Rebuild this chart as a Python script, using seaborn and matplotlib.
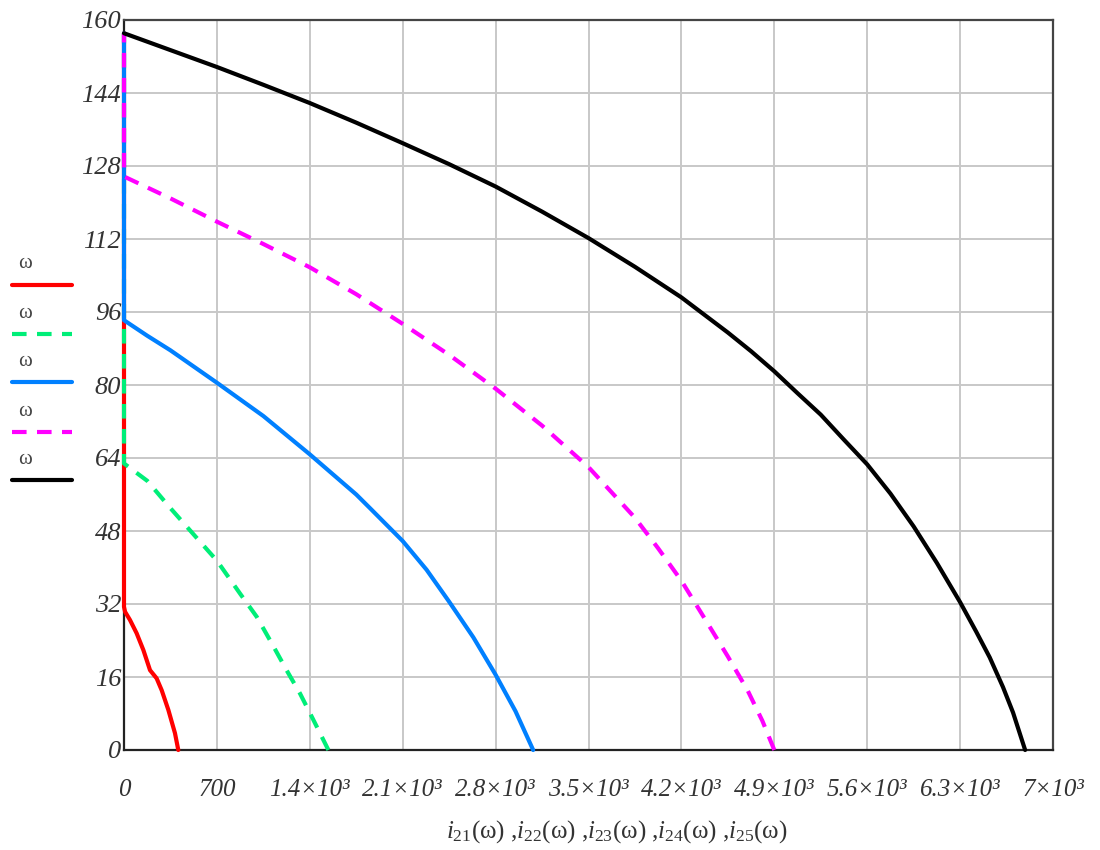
import pandas as pd
import matplotlib
matplotlib.use("Agg")
import matplotlib.pyplot as plt
from matplotlib.lines import Line2D
import seaborn as sns

# Speed ω (rad/s) and current i(ω) for each curve, ω ascending.
# Above its peak speed each current stays at zero up to ω = 157.1.
omega_21 = [0, 3.7, 8.8, 13.1, 15.7, 17.5, 21.9, 25.6, 28.5, 30.3, 31.4, 157.1]
current_21 = [409, 384, 334, 284, 246, 196, 146, 95, 45, 8, 0, 0]

omega_22 = [0, 6.6, 12.4, 17.5, 23.4, 29.2, 34.3, 41.5, 47.3, 53.0, 59.0, 62.8, 157.1]
current_22 = [1540, 1427, 1326, 1225, 1113, 1000, 874, 700, 523, 350, 175, 0, 0]

omega_23 = [0, 8.5, 16.5, 24.7, 32.5, 39.5, 45.8, 52.7, 56.0, 64.8, 73.2, 80.5,
            87.6, 90.8, 94.2, 157.1]
current_23 = [3083, 2950, 2800, 2632, 2450, 2280, 2100, 1864, 1750, 1400, 1050, 700,
              350, 175, 0, 0]

omega_24 = [0, 6.4, 13.0, 20.5, 28.4, 37.1, 44.2, 50.9, 62.0, 71.1, 79.2, 86.6,
            93.4, 99.9, 105.8, 110.9, 115.8, 120.9, 125.7, 157.1]
current_24 = [4900, 4810, 4700, 4550, 4384, 4200, 4025, 3850, 3500, 3150, 2800, 2450,
              2100, 1750, 1400, 1050, 700, 350, 0, 0]

omega_25 = [0, 8.2, 13.8, 20.3, 25.9, 32.4, 41.0, 49.0, 56.2, 62.6, 68.0, 73.5,
            78.2, 83.0, 87.4, 91.5, 99.2, 105.9, 112.2, 118.0, 123.5, 128.4, 133.0,
            137.5, 141.8, 145.8, 149.7, 153.4, 157.1]
current_25 = [6790, 6699, 6623, 6523, 6422, 6300, 6125, 5950, 5775, 5600, 5425, 5250,
              5075, 4900, 4725, 4550, 4200, 3850, 3500, 3150, 2800, 2450, 2100,
              1750, 1400, 1050, 700, 350, 0]

series_names = ["i21", "i22", "i23", "i24", "i25"]
series_omega = [omega_21, omega_22, omega_23, omega_24, omega_25]
series_current = [current_21, current_22, current_23, current_24, current_25]
series_colors = ["#ff0000", "#00ee78", "#0080ff", "#ff00ff", "#000000"]
series_dashed = [False, True, False, True, False]

x_ticks = [0, 700, 1400, 2100, 2800, 3500, 4200, 4900, 5600, 6300, 7000]
x_tick_labels = ["0", "700", "1.4×10³", "2.1×10³", "2.8×10³", "3.5×10³",
                 "4.2×10³", "4.9×10³", "5.6×10³", "6.3×10³", "7×10³"]
y_ticks = [0, 16, 32, 48, 64, 80, 96, 112, 128, 144, 160]
legend_label = "ω"
x_title = (r"$i_{\mathit{21}}$(ω) ,$i_{\mathit{22}}$(ω) ,$i_{\mathit{23}}$(ω) ,"
           r"$i_{\mathit{24}}$(ω) ,$i_{\mathit{25}}$(ω)")

sns.set_theme(style="white")
plt.rcParams["font.family"] = ["Liberation Serif", "DejaVu Sans"]
plt.rcParams["mathtext.fontset"] = "custom"
plt.rcParams["mathtext.it"] = "Liberation Serif:italic"
plt.rcParams["mathtext.rm"] = "Liberation Serif"

frames = [pd.DataFrame({"omega": w, "current": c, "series": n})
          for n, w, c in zip(series_names, series_omega, series_current)]
df = pd.concat(frames, ignore_index=True)

dash_pattern = (3.5, 2.5)
palette = dict(zip(series_names, series_colors))
dashes = {n: (dash_pattern if d else "") for n, d in zip(series_names, series_dashed)}

W, H = 1100, 850
fig = plt.figure(figsize=(W / 100, H / 100), dpi=100)
left, right, top, bottom = 124, 1053, 20, 750
ax = fig.add_axes([left / W, 1 - bottom / H, (right - left) / W, (bottom - top) / H])

sns.lineplot(data=df, x="current", y="omega", hue="series", style="series",
             palette=palette, dashes=dashes, sort=False, estimator=None,
             linewidth=3, legend=False, ax=ax, clip_on=False, zorder=3)

ax.set_xlim(0, 7000)
ax.set_ylim(0, 160)
ax.set_xticks(x_ticks)
ax.set_xticklabels(x_tick_labels, fontstyle="italic", fontsize=18, color="#333333")
ax.set_yticks(y_ticks)
ax.set_yticklabels([str(v) for v in y_ticks], fontstyle="italic", fontsize=19,
                   color="#333333")
ax.tick_params(axis="both", length=0)
ax.tick_params(axis="x", pad=21)
ax.tick_params(axis="y", pad=2)
ax.set_xlabel("")
ax.set_ylabel("")

ax.grid(True, color="#c8c8c8", linewidth=1.4)
ax.set_axisbelow(True)
for side, col in [("left", "#222222"), ("bottom", "#222222"),
                  ("top", "#444444"), ("right", "#444444")]:
    ax.spines[side].set_visible(True)
    ax.spines[side].set_color(col)
    ax.spines[side].set_linewidth(1.6)

fig.text(617 / W, 1 - 832 / H, x_title, ha="center", va="center",
         fontsize=18, color="#333333")

# Legend column at the left: a small ω above each line sample
legend_line_y = [285, 334, 382, 432, 480]
for y, col, dsh in zip(legend_line_y, series_colors, series_dashed):
    ln = Line2D([12 / W, 72 / W], [1 - y / H, 1 - y / H], transform=fig.transFigure,
                color=col, linewidth=3)
    if dsh:
        ln.set_dashes(dash_pattern)
    fig.add_artist(ln)
    fig.text(25 / W, 1 - (y - 21) / H, legend_label, ha="center", va="center",
             fontsize=15, color="#444444")

fig.savefig("out.png", dpi=100)
